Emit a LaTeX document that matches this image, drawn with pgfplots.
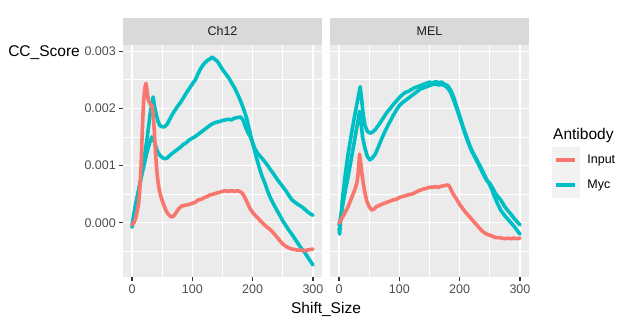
\documentclass[border=0pt]{standalone}
\usepackage{pgfplots}
\pgfplotsset{compat=1.18}
\usepackage{fontspec}
\setmainfont{Liberation Sans}
\definecolor{panelbg}{HTML}{EBEBEB}
\definecolor{stripbg}{HTML}{D9D9D9}
\definecolor{ticklab}{HTML}{4D4D4D}
\definecolor{tickc}{HTML}{333333}
\definecolor{striptext}{HTML}{1A1A1A}
\definecolor{legbg}{HTML}{F2F2F2}
\definecolor{inputc}{HTML}{F8766D}
\definecolor{mycc}{HTML}{00BFC4}
\newcommand{\tickfont}{\fontsize{12.5bp}{15bp}\selectfont}
\newcommand{\titlefont}{\fontsize{15.5bp}{18bp}\selectfont}

\pgfplotstableread{
x y
0 -0.00004
3 0.00000
6 0.00008
9 0.00022
11 0.00035
13 0.0006
15 0.0010
17 0.0016
19 0.0021
21 0.00235
23 0.00244
25 0.0023
27 0.00215
30 0.00208
33 0.00205
35 0.0019
37 0.0016
39 0.0012
42 0.0008
45 0.00058
48 0.00045
52 0.00033
56 0.00022
60 0.00015
64 0.00011
67 0.0001
70 0.00013
74 0.00019
78 0.00025
82 0.00029
86 0.0003
90 0.00031
95 0.00032
100 0.00034
105 0.00036
110 0.0004
115 0.00041
120 0.00044
125 0.00046
130 0.00049
135 0.0005
140 0.00052
145 0.00053
150 0.00055
155 0.00056
160 0.00055
165 0.00056
170 0.00055
175 0.00056
180 0.00054
184 0.0005
188 0.00042
192 0.00033
196 0.00024
200 0.00018
204 0.00013
208 0.00009
212 0.00004
216 0.00000
220 -0.00004
224 -0.00008
228 -0.00011
232 -0.00015
236 -0.0002
240 -0.00025
244 -0.0003
248 -0.00035
252 -0.00039
256 -0.00042
260 -0.00044
265 -0.00046
270 -0.00047
275 -0.00048
280 -0.00048
285 -0.00049
290 -0.00048
295 -0.00047
300 -0.00046
}\chInput

\pgfplotstableread{
x y
0 -0.00008
3 0.0001
6 0.0003
9 0.00045
12 0.0006
15 0.0008
18 0.00105
21 0.0012
24 0.0014
27 0.00165
30 0.0019
33 0.0021
35 0.0022
37 0.00205
40 0.0019
43 0.00178
46 0.0017
50 0.00168
54 0.00168
58 0.00172
62 0.0018
66 0.00188
70 0.00195
75 0.00203
80 0.0021
85 0.00218
90 0.00227
95 0.00235
100 0.00243
105 0.0025
110 0.00262
115 0.00272
120 0.00279
125 0.00284
130 0.00287
133 0.0029
137 0.00286
141 0.00283
145 0.00277
150 0.00268
155 0.00261
160 0.00254
165 0.00245
170 0.00236
175 0.00225
180 0.00213
185 0.00199
190 0.00183
194 0.00165
198 0.00147
202 0.00131
206 0.00115
210 0.001
215 0.00083
220 0.0007
225 0.00055
230 0.00042
235 0.00032
240 0.00022
245 0.00013
250 0.00003
255 -0.00005
260 -0.00013
265 -0.0002
270 -0.00028
275 -0.00036
280 -0.00044
285 -0.0005
290 -0.00058
295 -0.00066
300 -0.00074
}\chMycA

\pgfplotstableread{
x y
0 -0.00005
3 0.00015
6 0.00032
9 0.00048
12 0.00063
15 0.00078
18 0.00092
21 0.00106
24 0.0012
27 0.00132
30 0.00142
33 0.0015
36 0.00145
39 0.00135
42 0.00125
46 0.00118
50 0.00114
54 0.00112
58 0.00113
62 0.00117
66 0.00121
70 0.00124
75 0.00128
80 0.00132
85 0.00137
90 0.0014
95 0.00145
100 0.00148
105 0.00151
110 0.00155
115 0.00159
120 0.00163
125 0.00167
130 0.00171
135 0.00174
140 0.00176
145 0.00177
150 0.00179
155 0.0018
160 0.00181
165 0.0018
170 0.00183
175 0.00184
180 0.00185
184 0.0018
188 0.00168
192 0.00158
196 0.00151
200 0.0014
204 0.00129
208 0.00122
212 0.00117
216 0.00112
220 0.00107
225 0.001
230 0.00092
235 0.00085
240 0.00077
245 0.0007
250 0.00063
255 0.00056
260 0.00048
265 0.0004
270 0.00036
275 0.00032
280 0.00029
285 0.00025
290 0.0002
295 0.00016
300 0.00013
}\chMycB

\pgfplotstableread{
x y
0 -0.00001
3 0.00005
6 0.0001
9 0.00016
12 0.00022
15 0.00028
18 0.00036
21 0.00044
24 0.00052
27 0.0006
30 0.00072
32 0.0009
34 0.0012
36 0.00105
38 0.00085
40 0.0007
43 0.00052
46 0.00038
50 0.00028
54 0.00022
58 0.00024
62 0.00028
66 0.0003
70 0.00032
75 0.00034
80 0.00036
85 0.00038
90 0.0004
95 0.00041
100 0.00044
105 0.00046
110 0.00047
115 0.00049
120 0.0005
125 0.00052
130 0.00055
135 0.00057
140 0.00059
145 0.0006
150 0.00062
155 0.00062
160 0.00063
165 0.00062
170 0.00064
175 0.00065
180 0.00066
183 0.00064
186 0.00057
190 0.00049
195 0.00041
200 0.00032
205 0.00025
210 0.00018
215 0.00012
220 0.00006
225 0.00000
230 -0.00006
235 -0.00012
240 -0.00017
245 -0.0002
250 -0.00022
255 -0.00024
260 -0.00026
265 -0.00026
270 -0.00027
275 -0.00028
280 -0.00027
285 -0.00028
290 -0.00027
295 -0.00028
300 -0.00027
}\melInput

\pgfplotstableread{
x y
0 -0.0001
1 -0.0002
3 0.0001
6 0.00045
11 0.0009
15 0.0012
20 0.00152
25 0.00182
30 0.0021
35 0.00238
37 0.0022
40 0.0019
43 0.0017
47 0.0016
51 0.00157
55 0.00158
60 0.00163
65 0.0017
70 0.00178
75 0.00186
80 0.00194
85 0.002
90 0.00207
95 0.00213
100 0.00219
105 0.00224
110 0.00228
115 0.0023
120 0.00233
125 0.00236
130 0.00238
135 0.0024
140 0.00242
145 0.00244
150 0.00246
155 0.00244
160 0.00247
165 0.00245
170 0.00246
175 0.00242
180 0.0024
185 0.00232
190 0.0022
195 0.00203
200 0.00187
205 0.0017
210 0.00155
215 0.0014
220 0.00127
225 0.00117
230 0.00107
235 0.00097
240 0.00086
245 0.00075
250 0.00066
254 0.00056
258 0.00045
263 0.00033
268 0.00022
275 0.00012
280 0.00006
285 0.0
290 -0.00006
295 -0.00013
300 -0.0002
}\melMycA

\pgfplotstableread{
x y
0 -0.00005
3 0.00012
6 0.0003
11 0.0006
15 0.0008
20 0.0011
25 0.0014
30 0.0017
34 0.00195
36 0.0018
39 0.0015
43 0.0013
47 0.00116
51 0.0011
55 0.00113
60 0.0012
65 0.00132
70 0.00145
75 0.00157
80 0.00168
85 0.00178
90 0.00188
95 0.00197
100 0.00205
105 0.0021
110 0.00214
115 0.00218
120 0.00222
125 0.00226
130 0.0023
135 0.00234
140 0.00236
145 0.00238
150 0.0024
155 0.00242
160 0.00243
165 0.00241
170 0.00242
175 0.0024
180 0.00236
185 0.00228
190 0.00215
195 0.002
200 0.00184
205 0.00168
210 0.00152
215 0.00138
220 0.00125
225 0.00115
230 0.00105
235 0.00094
240 0.00083
245 0.00074
250 0.00069
255 0.0006
260 0.0005
268 0.0004
275 0.00028
280 0.00021
285 0.00015
290 0.00008
295 0.00002
300 -0.00004
}\melMycB

\pgfplotsset{
  panel/.style={
    scale only axis, width=199bp, height=232bp, anchor=south west,
    xmin=-15, xmax=315, ymin=-0.00095, ymax=0.00311,
    axis background/.style={fill=panelbg},
    axis line style={draw=none},
    xtick={0,100,200,300}, xticklabels={0,100,200,300},
    ytick={0,0.001,0.002,0.003},
    minor xtick={50,150,250}, minor ytick={-0.0005,0.0005,0.0015,0.0025},
    grid=both,
    major grid style={white, line width=1.5bp},
    minor grid style={white, line width=0.75bp},
    tick align=outside, tick pos=left,
    major tick length=4bp, minor tick length=0pt,
    tick style={tickc, line width=1.3bp},
    scaled y ticks=false, scaled x ticks=false,
    ticklabel style={font=\tickfont, text=ticklab},
    xticklabel style={inner sep=3.5bp},
    yticklabel style={inner sep=3bp},
    clip=false,
  },
  series/.style={line width=3.6bp, line join=round, line cap=round},
}

\begin{document}
\begin{tikzpicture}
\path[use as bounding box] (0,0) rectangle (625bp,335bp);

\begin{axis}[panel, name=ch12, at={(123bp,58bp)},
  yticklabels={0.000,0.001,0.002,0.003}]
\addplot[series, mycc] table[x=x,y=y] {\chMycB};
\addplot[series, mycc] table[x=x,y=y] {\chMycA};
\addplot[series, inputc] table[x=x,y=y] {\chInput};
\end{axis}

\begin{axis}[panel, name=mel, at={(330bp,58bp)},
  yticklabels={}, ytick style={draw=none},
  legend style={at={(1.1156,0.5603)}, anchor=north west, draw=none, fill=none,
    inner sep=0pt, outer sep=0pt, row sep=0pt, column sep=6bp,
    font=\tickfont, cells={anchor=west}},
  legend image code/.code={
    \fill[legbg] (-4bp,-12.5bp) rectangle (23bp,12.5bp);
    \draw[#1, line width=3.6bp, line cap=butt] (0bp,0bp) -- (19bp,0bp);
  }]
\addlegendimage{inputc}
\addlegendentry{Input}
\addlegendimage{mycc}
\addlegendentry{Myc}
\addplot[series, mycc, forget plot] table[x=x,y=y] {\melMycB};
\addplot[series, mycc, forget plot] table[x=x,y=y] {\melMycA};
\addplot[series, inputc, forget plot] table[x=x,y=y] {\melInput};
\end{axis}

% facet strips
\fill[stripbg] (123bp,290bp) rectangle (322bp,317bp);
\fill[stripbg] (330bp,290bp) rectangle (529bp,317bp);
\node[font=\tickfont, text=striptext] at (222.5bp,303.5bp) {Ch12};
\node[font=\tickfont, text=striptext] at (429.5bp,303.5bp) {MEL};

% axis titles
\node[font=\titlefont, anchor=north east, inner sep=0pt] at (80bp,290bp) {CC\_Score};
\node[font=\titlefont, anchor=base, inner sep=0pt] at (326bp,21.7bp) {Shift\_Size};
\node[font=\titlefont, anchor=west, inner sep=0pt] at (553bp,200bp) {Antibody};
\end{tikzpicture}
\end{document}
